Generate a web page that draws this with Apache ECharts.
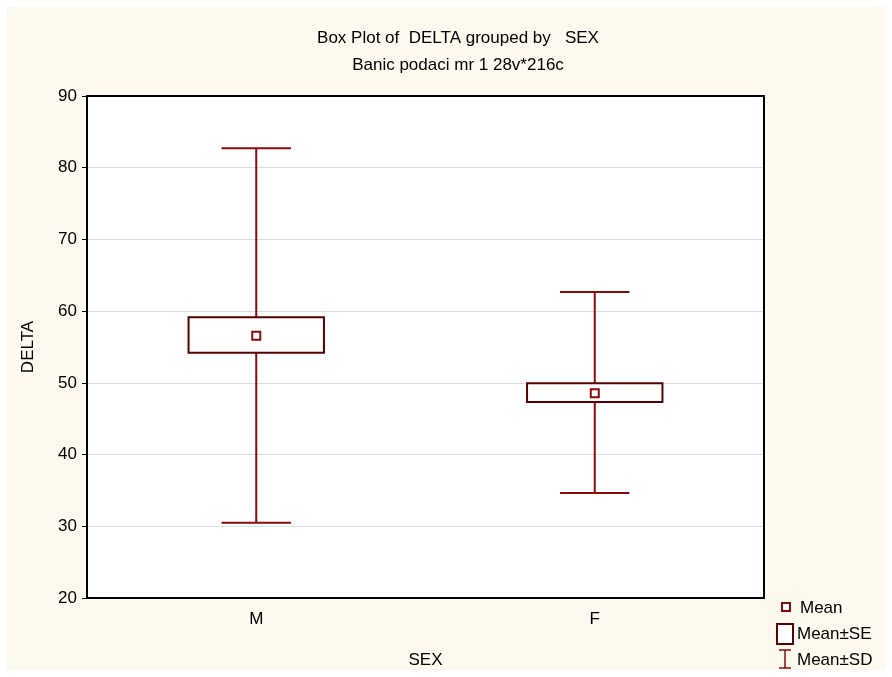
<!DOCTYPE html>
<html>
<head>
<meta charset="utf-8">
<script src="https://cdn.jsdelivr.net/npm/echarts@6/dist/echarts.min.js"></script>
<style>
  html, body { margin: 0; padding: 0; background: #ffffff; }
  #chart { width: 892px; height: 677px; }
</style>
</head>
<body>
<div id="chart"></div>
<script>
// Groups on the x axis
const categories = ['M', 'F'];
// Mean of DELTA per group
const means = [56.57, 48.54];
// Mean ± standard error (box)
const seLow = [54.2, 47.33];
const seHigh = [59.14, 49.94];
// Mean ± standard deviation (whiskers)
const sdLow = [30.5, 34.64];
const sdHigh = [82.7, 62.67];
// Y axis range and tick step
const yMin = 20, yMax = 90, yStep = 10;

const WHISKER = '#8b0a0a';
const BOX = '#5a0000';
const FONT = '"Liberation Sans", Arial, sans-serif';

const chart = echarts.init(document.getElementById('chart'), null, { renderer: 'canvas' });

const rows = categories.map((c, i) => [i, sdLow[i], seLow[i], means[i], seHigh[i], sdHigh[i]]);

function renderGroup(params, api) {
  const idx = api.value(0);
  const band = api.size([1, 0])[0];
  const boxW = band * 0.40;
  const capW = band * 0.205;
  const pLow = api.coord([idx, api.value(1)]);
  const pSeLo = api.coord([idx, api.value(2)]);
  const pMean = api.coord([idx, api.value(3)]);
  const pSeHi = api.coord([idx, api.value(4)]);
  const pHigh = api.coord([idx, api.value(5)]);
  const x = pMean[0];
  const ms = 8;
  return {
    type: 'group',
    children: [
      { type: 'line', shape: { x1: x, y1: pHigh[1], x2: x, y2: pLow[1] },
        style: { stroke: WHISKER, lineWidth: 2 } },
      { type: 'line', shape: { x1: x - capW / 2, y1: pHigh[1], x2: x + capW / 2, y2: pHigh[1] },
        style: { stroke: WHISKER, lineWidth: 2 } },
      { type: 'line', shape: { x1: x - capW / 2, y1: pLow[1], x2: x + capW / 2, y2: pLow[1] },
        style: { stroke: WHISKER, lineWidth: 2 } },
      { type: 'rect', shape: { x: x - boxW / 2, y: pSeHi[1], width: boxW, height: pSeLo[1] - pSeHi[1] },
        style: { fill: '#ffffff', stroke: BOX, lineWidth: 2 } },
      { type: 'rect', shape: { x: x - ms / 2, y: pMean[1] - ms / 2, width: ms, height: ms },
        style: { fill: '#ffffff', stroke: WHISKER, lineWidth: 2 } }
    ]
  };
}

const option = {
  backgroundColor: '#ffffff',
  animation: false,
  grid: { left: 87, right: 128, top: 96, bottom: 79, show: true, backgroundColor: '#ffffff', borderWidth: 0 },
  xAxis: {
    type: 'category',
    data: categories,
    boundaryGap: true,
    axisLine: { show: true, lineStyle: { color: '#000', width: 2 } },
    axisTick: { show: false },
    axisLabel: { color: '#000', fontSize: 17, fontFamily: FONT, margin: 13 },
    splitLine: { show: false },
    name: 'SEX',
    nameLocation: 'middle',
    nameGap: 54,
    nameTextStyle: { color: '#000', fontSize: 17, fontFamily: FONT }
  },
  yAxis: {
    type: 'value',
    min: yMin, max: yMax, interval: yStep,
    axisLine: { show: true, lineStyle: { color: '#000', width: 2 } },
    axisTick: { show: true, length: 5, lineStyle: { color: '#000', width: 1 } },
    axisLabel: { color: '#000', fontSize: 17, fontFamily: FONT, margin: 10 },
    splitLine: { show: true, lineStyle: { color: '#dcdcdc', width: 1 } },
    name: 'DELTA',
    nameLocation: 'middle',
    nameGap: 50,
    nameRotate: 90,
    nameTextStyle: { color: '#000', fontSize: 17, fontFamily: FONT }
  },
  graphic: [
    // cream frame behind the plot
    { type: 'rect', z: -10, silent: true, shape: { x: 7, y: 7, width: 878, height: 663 },
      style: { fill: '#fdf9ef' } },
    // plot border
    { type: 'rect', z: 50, silent: true, shape: { x: 87, y: 96, width: 677, height: 502 },
      style: { fill: 'none', stroke: '#000', lineWidth: 2 } },
    { type: 'text', z: 60, x: 458, y: 38,
      style: { text: 'Box Plot of  DELTA grouped by   SEX', fill: '#000', font: '17px ' + FONT,
               textAlign: 'center', textVerticalAlign: 'middle' } },
    { type: 'text', z: 60, x: 458, y: 65,
      style: { text: 'Banic podaci mr 1 28v*216c', fill: '#000', font: '17px ' + FONT,
               textAlign: 'center', textVerticalAlign: 'middle' } },
    // legend
    { type: 'rect', z: 60, shape: { x: 782, y: 603, width: 8, height: 8 },
      style: { fill: '#fff', stroke: WHISKER, lineWidth: 2 } },
    { type: 'text', z: 60, x: 800, y: 608,
      style: { text: 'Mean', fill: '#000', font: '17px ' + FONT, textVerticalAlign: 'middle' } },
    { type: 'rect', z: 60, shape: { x: 777, y: 624, width: 16, height: 20 },
      style: { fill: '#fff', stroke: BOX, lineWidth: 2 } },
    { type: 'text', z: 60, x: 797, y: 634,
      style: { text: 'Mean±SE', fill: '#000', font: '17px ' + FONT, textVerticalAlign: 'middle' } },
    { type: 'line', z: 60, shape: { x1: 785, y1: 650, x2: 785, y2: 668 }, style: { stroke: WHISKER, lineWidth: 1.5 } },
    { type: 'line', z: 60, shape: { x1: 779, y1: 650, x2: 791, y2: 650 }, style: { stroke: WHISKER, lineWidth: 1.5 } },
    { type: 'line', z: 60, shape: { x1: 779, y1: 668, x2: 791, y2: 668 }, style: { stroke: WHISKER, lineWidth: 1.5 } },
    { type: 'text', z: 60, x: 797, y: 660,
      style: { text: 'Mean±SD', fill: '#000', font: '17px ' + FONT, textVerticalAlign: 'middle' } }
  ],
  series: [{
    type: 'custom',
    renderItem: renderGroup,
    encode: { x: 0, y: [1, 2, 3, 4, 5] },
    data: rows,
    clip: false
  }]
};

chart.setOption(option);
</script>
</body>
</html>
